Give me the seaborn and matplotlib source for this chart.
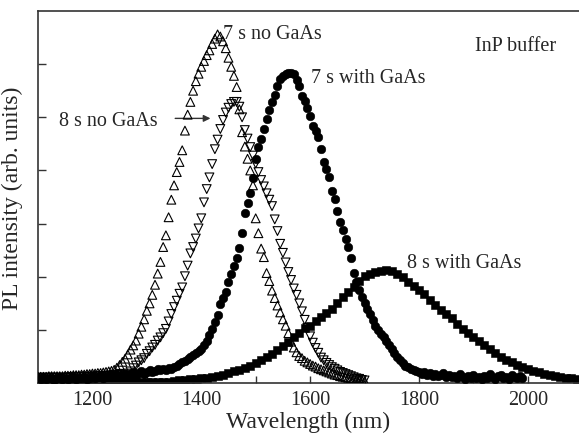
import numpy as np
import matplotlib
matplotlib.use("Agg")
import matplotlib.pyplot as plt
from matplotlib.ticker import MultipleLocator, NullFormatter
import seaborn as sns

sns.set_style("ticks")
plt.rcParams["font.family"] = ["Liberation Serif", "DejaVu Serif"]

WL_START = 1100

# 7 s, no GaAs (open up-triangles), 1100-1700 nm in 5 nm steps
no_gaas_7s = [
    0.12, 0.12, 0.12, 0.12, 0.13, 0.13, 0.13, 0.13, 0.13, 0.13,
    0.14, 0.14, 0.14, 0.15, 0.15, 0.15, 0.16, 0.16, 0.17, 0.17,
    0.18, 0.18, 0.19, 0.19, 0.20, 0.21, 0.22, 0.23, 0.25, 0.29,
    0.34, 0.40, 0.46, 0.54, 0.63, 0.71, 0.80, 0.93, 1.06, 1.20,
    1.36, 1.50, 1.66, 1.85, 2.06, 2.28, 2.56, 2.78, 3.12, 3.45,
    3.72, 3.97, 4.16, 4.38, 4.75, 5.05, 5.29, 5.50, 5.68, 5.82,
    5.95, 6.06, 6.17, 6.26, 6.38, 6.48, 6.56, 6.52, 6.43, 6.30,
    6.12, 5.95, 5.78, 5.57, 5.15, 4.72, 4.45, 4.22, 4.00, 3.72,
    3.10, 2.82, 2.53, 2.37, 2.07, 1.92, 1.74, 1.60, 1.46, 1.33,
    1.20, 1.08, 0.94, 0.78, 0.67, 0.58, 0.51, 0.47, 0.42, 0.39,
    0.36, 0.33, 0.31, 0.28, 0.26, 0.24, 0.22, 0.20, 0.18, 0.16,
    0.15, 0.13, 0.12, 0.11, 0.10, 0.09, 0.08, 0.07, 0.06, 0.05,
    0.04,
]

# 8 s, no GaAs (open down-triangles), 1100-1700 nm in 5 nm steps
no_gaas_8s = [
    0.10, 0.10, 0.10, 0.10, 0.10, 0.10, 0.10, 0.10, 0.10, 0.10,
    0.10, 0.10, 0.11, 0.11, 0.11, 0.11, 0.11, 0.12, 0.12, 0.12,
    0.12, 0.13, 0.13, 0.13, 0.13, 0.14, 0.14, 0.14, 0.15, 0.15,
    0.15, 0.16, 0.16, 0.18, 0.22, 0.28, 0.33, 0.39, 0.43, 0.47,
    0.55, 0.60, 0.67, 0.72, 0.80, 0.86, 0.94, 1.02, 1.16, 1.30,
    1.43, 1.55, 1.68, 1.80, 2.01, 2.21, 2.44, 2.56, 2.72, 2.91,
    3.10, 3.40, 3.65, 3.87, 4.12, 4.40, 4.58, 4.78, 4.95, 5.09,
    5.18, 5.25, 5.29, 5.29, 5.20, 5.00, 4.76, 4.60, 4.44, 4.28,
    4.13, 3.97, 3.82, 3.70, 3.57, 3.45, 3.33, 3.08, 2.86, 2.62,
    2.45, 2.27, 2.09, 1.94, 1.78, 1.66, 1.50, 1.35, 1.19, 1.04,
    0.88, 0.76, 0.66, 0.57, 0.48, 0.43, 0.38, 0.34, 0.30, 0.27,
    0.24, 0.21, 0.19, 0.17, 0.15, 0.13, 0.11, 0.09, 0.08, 0.06,
    0.05,
]

# 7 s, with GaAs (filled circles), 1100-1990 nm in 5 nm steps
with_gaas_7s = [
    0.10, 0.08, 0.11, 0.07, 0.09, 0.10, 0.06, 0.09, 0.11, 0.08,
    0.10, 0.07, 0.09, 0.12, 0.08, 0.10, 0.09, 0.12, 0.08, 0.10,
    0.13, 0.09, 0.11, 0.14, 0.10, 0.12, 0.15, 0.11, 0.13, 0.16,
    0.12, 0.15, 0.18, 0.14, 0.17, 0.20, 0.16, 0.19, 0.22, 0.18,
    0.21, 0.24, 0.20, 0.23, 0.26, 0.24, 0.27, 0.25, 0.29, 0.27,
    0.31, 0.32, 0.36, 0.39, 0.42, 0.45, 0.49, 0.53, 0.56, 0.60,
    0.65, 0.71, 0.80, 0.90, 1.02, 1.15, 1.28, 1.48, 1.60, 1.72,
    1.90, 2.05, 2.20, 2.35, 2.55, 2.82, 3.20, 3.38, 3.57, 3.85,
    4.22, 4.44, 4.60, 4.78, 4.97, 5.14, 5.28, 5.42, 5.58, 5.72,
    5.78, 5.82, 5.84, 5.83, 5.82, 5.70, 5.58, 5.40, 5.30, 5.18,
    5.02, 4.84, 4.74, 4.63, 4.40, 4.16, 4.03, 3.88, 3.62, 3.46,
    3.24, 3.04, 2.88, 2.72, 2.56, 2.36, 2.07, 1.91, 1.76, 1.62,
    1.50, 1.40, 1.30, 1.18, 1.08, 0.99, 0.93, 0.87, 0.80, 0.72,
    0.64, 0.56, 0.49, 0.43, 0.37, 0.33, 0.30, 0.27, 0.24, 0.22,
    0.20, 0.18, 0.21, 0.16, 0.19, 0.14, 0.18, 0.13, 0.16, 0.19,
    0.12, 0.15, 0.11, 0.14, 0.09, 0.17, 0.12, 0.08, 0.13, 0.10,
    0.15, 0.09, 0.12, 0.07, 0.14, 0.10, 0.18, 0.11, 0.08, 0.13,
    0.16, 0.10, 0.12, 0.08, 0.15, 0.11, 0.09, 0.13, 0.10,
]

# 8 s, with GaAs (filled squares), 1100-2090 nm in 10 nm steps
with_gaas_8s = [
    0.04, 0.04, 0.03, 0.03, 0.03, 0.03, 0.03, 0.03, 0.03, 0.03,
    0.03, 0.03, 0.03, 0.03, 0.03, 0.03, 0.03, 0.03, 0.03, 0.03,
    0.03, 0.03, 0.03, 0.03, 0.03, 0.04, 0.05, 0.06, 0.07, 0.08,
    0.09, 0.10, 0.12, 0.14, 0.16, 0.19, 0.22, 0.25, 0.29, 0.33,
    0.38, 0.43, 0.49, 0.55, 0.62, 0.70, 0.78, 0.86, 0.95, 1.03,
    1.08, 1.16, 1.24, 1.32, 1.40, 1.51, 1.62, 1.72, 1.81, 1.93,
    2.01, 2.05, 2.09, 2.11, 2.13, 2.11, 2.06, 1.99, 1.91, 1.83,
    1.76, 1.67, 1.57, 1.47, 1.37, 1.30, 1.22, 1.11, 1.02, 0.95,
    0.87, 0.79, 0.72, 0.64, 0.57, 0.50, 0.44, 0.39, 0.34, 0.30,
    0.26, 0.23, 0.20, 0.17, 0.15, 0.13, 0.12, 0.10, 0.09, 0.08,
]

x_major_ticks = [1200, 1400, 1600, 1800, 2000]
y_ticks = [1, 2, 3, 4, 5, 6]


def wavelengths(values, step):
    return WL_START + step * np.arange(len(values))


def main():
    fig = plt.figure(figsize=(5.79, 4.35), dpi=100)
    ax = fig.add_axes([0.0656, 0.117, 0.9344, 0.8554])

    sns.scatterplot(x=wavelengths(with_gaas_8s, 10), y=with_gaas_8s, ax=ax,
                    marker="s", s=38, color="black", edgecolor="black",
                    linewidth=0.4, zorder=2)
    sns.scatterplot(x=wavelengths(with_gaas_7s, 5), y=with_gaas_7s, ax=ax,
                    marker="o", s=38, color="black", edgecolor="black",
                    linewidth=0.4, zorder=3)
    sns.scatterplot(x=wavelengths(no_gaas_7s, 5), y=no_gaas_7s, ax=ax,
                    marker="^", s=40, facecolor="none", edgecolor="black",
                    linewidth=0.8, zorder=4)
    sns.scatterplot(x=wavelengths(no_gaas_8s, 5), y=no_gaas_8s, ax=ax,
                    marker="v", s=40, facecolor="none", edgecolor="black",
                    linewidth=0.8, zorder=4)

    ax.set_xlim(1100, 2094)
    ax.set_ylim(0, 7)
    ax.set_xticks(x_major_ticks)
    ax.xaxis.set_minor_locator(MultipleLocator(100))
    ax.set_yticks(y_ticks)
    ax.yaxis.set_major_formatter(NullFormatter())
    ax.tick_params(axis="both", which="both", direction="in", length=5,
                   width=1.0, color="#333333", labelsize=14.5, pad=5)
    ax.tick_params(axis="y", length=6)

    for side in ["left", "bottom", "top"]:
        ax.spines[side].set_color("#333333")
        ax.spines[side].set_linewidth(1.2)
    ax.spines["right"].set_visible(False)

    ax.set_xlabel("Wavelength (nm)", fontsize=17, labelpad=1)
    ax.set_ylabel("PL intensity (arb. units)", fontsize=17, labelpad=6)

    text_kw = dict(fontsize=14.5, va="baseline", ha="left")
    ax.text(1440, 6.49, "7 s no GaAs", **text_kw)
    ax.text(1602, 5.66, "7 s with GaAs", **text_kw)
    ax.text(1903, 6.26, "InP buffer", **text_kw)
    ax.text(1778, 2.19, "8 s with GaAs", **text_kw)
    ax.text(1138, 4.85, "8 s no GaAs", **text_kw)
    ax.annotate("", xy=(1422, 4.98), xytext=(1347, 4.98),
                arrowprops=dict(arrowstyle="-|>", color="#333333", lw=1.0,
                                mutation_scale=10))

    fig.savefig("out.png", dpi=100)
    plt.close(fig)


if __name__ == "__main__":
    main()
